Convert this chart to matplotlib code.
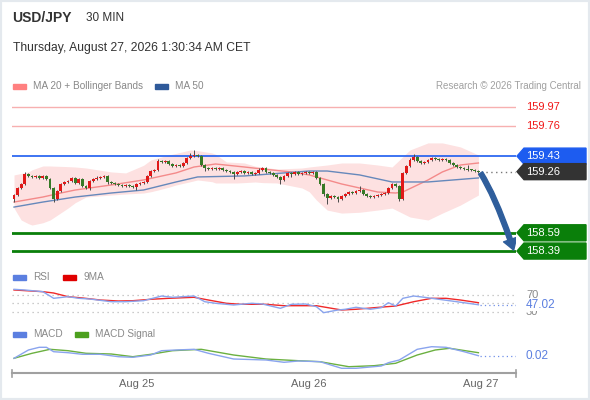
import matplotlib
matplotlib.use("Agg")
import matplotlib.pyplot as plt
import matplotlib.transforms as mtransforms
from matplotlib.patches import Polygon, Rectangle, FancyArrowPatch
from matplotlib.path import Path

plt.rcParams['font.family'] = ['Liberation Sans', 'DejaVu Sans']

symbol = "USD/JPY"
timeframe = "30 MIN"
timestamp = "Thursday, August 27, 2026 1:30:34 AM CET"

# 30 min candles, open of each = close of the one before
first_open = 158.960
closes = [
    159.004, 159.081, 159.125, 159.235, 159.213, 159.202, 159.213, 159.191, 159.213, 159.180,
    159.081, 158.960, 159.048, 159.125, 159.147, 159.158, 159.191, 159.136, 159.180, 159.103,
    159.081, 159.158, 159.180, 159.191, 159.202, 159.213, 159.147, 159.136, 159.125, 159.114,
    159.103, 159.114, 159.103, 159.092, 159.125, 159.136, 159.147, 159.213, 159.267, 159.278,
    159.377, 159.366, 159.377, 159.344, 159.322, 159.333, 159.322, 159.355, 159.410, 159.432,
    159.443, 159.432, 159.333, 159.300, 159.289, 159.300, 159.289, 159.300, 159.278, 159.267,
    159.257, 159.235, 159.257, 159.267, 159.246, 159.257, 159.235, 159.246, 159.278, 159.300,
    159.257, 159.246, 159.224, 159.202, 159.169, 159.213, 159.246, 159.235, 159.257, 159.235,
    159.246, 159.257, 159.246, 159.257, 159.191, 159.125, 159.015, 158.971, 158.993, 158.982,
    158.960, 158.993, 159.015, 159.037, 159.026, 159.048, 159.059, 159.015, 158.993, 158.982,
    158.993, 159.004, 159.015, 159.026, 159.081, 159.125, 159.103, 158.960, 159.246, 159.322,
    159.388, 159.421, 159.377, 159.355, 159.366, 159.388, 159.410, 159.399, 159.388, 159.399,
    159.388, 159.355, 159.333, 159.311, 159.300, 159.289, 159.278, 159.278, 159.267, 159.257,
]
# wick lengths in hundredths of a yen
wick_up = [
    1, 1, 1, 2, 1, 1, 1, 1, 1, 1,  1, 1, 1, 1, 1, 1, 1, 1, 1, 1,
    1, 1, 1, 2, 1, 1, 1, 1, 1, 1,  1, 1, 1, 1, 1, 1, 1, 1, 1, 1,
    2, 1, 1, 1, 1, 1, 1, 1, 1, 3,  5, 1, 1, 1, 1, 1, 1, 1, 1, 1,
    1, 1, 1, 1, 1, 1, 1, 1, 2, 1,  1, 1, 1, 1, 1, 1, 1, 1, 1, 1,
    1, 1, 1, 1, 1, 1, 1, 1, 1, 1,  1, 1, 1, 1, 1, 1, 4, 1, 1, 1,
    1, 1, 1, 1, 1, 1, 1, 1, 1, 1,  2, 3, 1, 1, 1, 1, 1, 1, 1, 1,
    1, 1, 1, 1, 1, 1, 4, 1, 1, 1,
]
wick_dn = [
    3, 1, 1, 1, 1, 1, 1, 1, 1, 1,  1, 3, 1, 1, 1, 1, 1, 1, 1, 1,
    1, 2, 1, 1, 1, 1, 2, 1, 1, 1,  1, 1, 1, 1, 3, 1, 1, 1, 1, 1,
    1, 1, 1, 1, 1, 1, 1, 1, 1, 1,  1, 1, 1, 3, 1, 1, 1, 1, 1, 1,
    1, 6, 1, 1, 1, 1, 1, 1, 1, 1,  1, 1, 1, 1, 4, 1, 1, 3, 1, 1,
    1, 1, 1, 1, 1, 1, 2, 7, 1, 1,  3, 1, 1, 1, 1, 1, 1, 1, 1, 1,
    1, 1, 1, 1, 1, 1, 1, 2, 1, 1,  1, 1, 1, 1, 1, 1, 1, 1, 1, 1,
    1, 1, 1, 1, 1, 1, 1, 1, 1, 1,
]

ma50_idx = [0, 8, 17, 27, 36, 45, 51, 64, 82, 87, 96, 105, 115, 129]
ma50_val = [158.872, 158.927, 158.982, 159.026, 159.059, 159.147, 159.202, 159.213,
            159.267, 159.267, 159.224, 159.147, 159.147, 159.191]
ma20_idx = [0, 8, 13, 17, 27, 36, 45, 50, 56, 64, 69, 77, 82, 87, 91, 96, 101, 106,
            108, 115, 119, 124, 129]
ma20_val = [158.927, 158.982, 159.026, 159.059, 159.114, 159.169, 159.246, 159.311,
            159.344, 159.311, 159.289, 159.257, 159.224, 159.169, 159.125, 159.081,
            159.037, 159.026, 159.037, 159.169, 159.257, 159.333, 159.355]
bb_idx = [0, 2, 4, 5, 8, 10, 15, 17, 20, 27, 31, 36, 38, 40, 43, 45, 49, 51, 55, 56,
          59, 62, 64, 67, 69, 73, 80, 82, 84, 87, 91, 96, 101, 105, 110, 115, 119, 124, 129]
bb_upper = [159.224, 159.240, 159.257, 159.280, 159.322, 159.322, 159.315, 159.311,
            159.300, 159.257, 159.246, 159.330, 159.388, 159.410, 159.443, 159.460,
            159.498, 159.490, 159.465, 159.450, 159.366, 159.360, 159.355, 159.320,
            159.311, 159.289, 159.300, 159.311, 159.320, 159.333, 159.355, 159.355,
            159.333, 159.311, 159.498, 159.575, 159.575, 159.531, 159.443]
bb_lower = [158.861, 158.730, 158.690, 158.675, 158.700, 158.730, 158.861, 158.920,
            158.982, 159.004, 159.015, 159.026, 159.040, 159.059, 159.090, 159.114,
            159.150, 159.169, 159.150, 159.136, 159.136, 159.136, 159.140, 159.147,
            159.140, 159.136, 159.081, 159.040, 158.949, 158.839, 158.806, 158.815,
            158.839, 158.861, 158.763, 158.730, 158.806, 158.894, 159.004]

res_levels = [159.97, 159.76]
pivot = 159.43
last_price = 159.26
sup_levels = [158.59, 158.39]

rsi_idx = [0, 3, 8, 10, 11, 15, 18, 21, 27, 31, 36, 41, 44, 50, 53, 56, 61, 66, 69,
           74, 77, 81, 84, 86, 90, 92, 95, 99, 102, 104, 106, 108, 111, 114, 118, 123, 129]
rsi_val = [83.4, 81.8, 77.8, 67.6, 62.2, 66.0, 62.2, 60.6, 54.2, 54.2, 56.6, 67.6, 64.6,
           67.6, 54.2, 50.5, 46.5, 50.5, 48.8, 38.7, 48.1, 48.8, 42.5, 28.4, 34.7, 36.4,
           41.1, 36.4, 40.1, 51.9, 44.1, 62.2, 67.6, 64.6, 59.9, 54.2, 47.02]
rsi_ma_idx = [0, 8, 11, 15, 19, 24, 29, 33, 38, 43, 50, 54, 59, 63, 70, 75, 79, 84, 91,
              95, 100, 106, 111, 116, 120, 124, 129]
rsi_ma_val = [81.8, 77.8, 74.7, 66.0, 63.0, 58.2, 55.9, 56.6, 59.9, 62.2, 64.6, 58.2,
              50.5, 48.1, 48.1, 44.8, 44.8, 44.8, 34.7, 36.4, 40.1, 44.1, 54.2, 62.2,
              62.2, 58.2, 51.9]

macd_idx = [0, 4, 7, 9, 11, 15, 19, 24, 29, 33, 38, 41, 45, 50, 54, 61, 70, 75, 79, 85,
            91, 95, 102, 104, 107, 112, 116, 120, 125, 129]
macd_val = [0.007, 0.0485, 0.062, 0.062, 0.040, 0.035, 0.027, 0.027, 0.015, 0.012,
            0.0235, 0.045, 0.0485, 0.052, 0.032, 0.0035, -0.0015, -0.013, -0.0065, -0.010,
            -0.043, -0.043, -0.0315, -0.015, -0.0015, 0.052, 0.065, 0.062, 0.040, 0.02]
sig_idx = [0, 5, 10, 15, 20, 27, 33, 38, 44, 52, 61, 70, 79, 85, 93, 100, 106, 112, 117,
           121, 129]
sig_val = [0.007, 0.032, 0.052, 0.045, 0.032, 0.0285, 0.015, 0.027, 0.045, 0.052, 0.0235,
           0.0035, -0.005, -0.010, -0.035, -0.030, -0.018, 0.0235, 0.0485, 0.057, 0.035]

day_ticks = [34, 82, 129.5]
day_labels = ["Aug 25", "Aug 26", "Aug 27"]

W, H = 590, 400
fig = plt.figure(figsize=(W / 100, H / 100), dpi=100)


def fx(x):
    return x / W


def fy(y):
    return 1 - y / H


def add_axes_px(left, top, right, bottom):
    return fig.add_axes([fx(left), fy(bottom), (right - left) / W, (bottom - top) / H])


ax = add_axes_px(12, 95, 516, 262)
ax_rsi = add_axes_px(12, 285, 516, 318)
ax_macd = add_axes_px(12, 340, 516, 373)
for a in (ax, ax_rsi, ax_macd):
    a.set_xlim(-0.56, 139.44)
    a.set_facecolor('none')
    for s in a.spines.values():
        s.set_visible(False)
    a.set_yticks([])
    a.set_xticks([])

ax.set_ylim(158.27, 160.10)
ax_rsi.set_ylim(15.88, 93.53)
ax_macd.set_ylim(-0.0665, 0.0985)

# bollinger + moving averages
ax.fill_between(bb_idx, bb_lower, bb_upper, color='#FDE1E1', lw=0, zorder=1)
ax.plot(ma20_idx, ma20_val, color='#F48A8A', lw=1.0, zorder=2)
ax.plot(ma50_idx, ma50_val, color='#6688BB', lw=1.0, zorder=2)

# candles
opens = [first_open] + closes[:-1]
for i, (o, c) in enumerate(zip(opens, closes)):
    top, bot = max(o, c), min(o, c)
    ax.vlines(i, bot - wick_dn[i] * 0.01, top + wick_up[i] * 0.01, color='#4A4A4A', lw=0.7, zorder=3)
    col = '#E01818' if c > o else '#367A26'
    ax.bar(i, max(top - bot, 0.008), bottom=bot, width=0.8, color=col, lw=0, zorder=4)

# key levels
for lv in res_levels:
    ax.axhline(lv, color='#F7B0B0', lw=1.0, zorder=2)
ax.axhline(pivot, color='#1D5CF0', lw=1.2, zorder=2)
for lv in sup_levels:
    ax.axhline(lv, color='#0A7F0A', lw=2.0, zorder=2)
ax.plot([len(closes) - 0.4, 139.44], [last_price, last_price], color='#777777',
        lw=1.0, ls=(0, (1, 2.5)), zorder=2)

# arrow to the target
arrow_path = Path([(len(closes) - 0.4, last_price - 0.015), (134.0, 158.97), (138.8, 158.40)],
                  [Path.MOVETO, Path.CURVE3, Path.CURVE3])
ax.add_patch(FancyArrowPatch(path=arrow_path,
                             arrowstyle='simple,head_length=8,head_width=10,tail_width=3.4',
                             color='#2F5E9C', mutation_scale=1, zorder=6))

# right hand labels
tr = mtransforms.blended_transform_factory(fig.transFigure, ax.transData)
half = 8 / 91.1


def tag(level, color):
    pts = [(fx(517), level), (fx(524), level + half), (fx(586), level + half),
           (fx(586), level - half), (fx(524), level - half)]
    ax.add_patch(Polygon(pts, closed=True, transform=tr, color=color, clip_on=False, zorder=7))
    ax.text(fx(526), level, f"{level:.2f}", transform=tr, color='white', fontsize=8,
            va='center', ha='left', zorder=8, clip_on=False)


for lv in res_levels:
    ax.text(fx(526), lv, f"{lv:.2f}", transform=tr, color='#F01818', fontsize=8,
            va='center', ha='left', clip_on=False)
tag(pivot, '#1D5CF0')
tag(last_price, '#333333')
for lv in sup_levels:
    tag(lv, '#0A7F0A')

# RSI panel
for lv in (70, 50, 30):
    ax_rsi.axhline(lv, color='#BBBBBB', lw=0.9, ls=(0, (1, 3)))
ax_rsi.plot(rsi_ma_idx, rsi_ma_val, color='#F02828', lw=1.0)
ax_rsi.plot(rsi_idx, rsi_val, color='#8AA4EE', lw=1.0)
ax_rsi.plot([rsi_idx[-1] + 0.5, 139.44], [rsi_val[-1], rsi_val[-1]], color='#6F8FE8',
            lw=0.9, ls=(0, (1, 2.5)))
tr_rsi = mtransforms.blended_transform_factory(fig.transFigure, ax_rsi.transData)
ax_rsi.text(fx(526), 70, "70", transform=tr_rsi, color='#888888', fontsize=8, va='center', clip_on=False)
ax_rsi.text(fx(526), 30, "30", transform=tr_rsi, color='#888888', fontsize=8, va='center', clip_on=False)
ax_rsi.text(fx(526), rsi_val[-1], f"{rsi_val[-1]:.2f}", transform=tr_rsi, color='#5B7FE0',
            fontsize=8.5, va='center', clip_on=False,
            bbox=dict(facecolor='white', edgecolor='none', pad=0.3))

# MACD panel
ax_macd.plot(sig_idx, sig_val, color='#6BB040', lw=1.0)
ax_macd.plot(macd_idx, macd_val, color='#8AA4EE', lw=1.0)
ax_macd.plot([macd_idx[-1] + 0.5, 139.44], [macd_val[-1], macd_val[-1]], color='#6F8FE8',
             lw=0.9, ls=(0, (1, 2.5)))
tr_macd = mtransforms.blended_transform_factory(fig.transFigure, ax_macd.transData)
ax_macd.text(fx(526), macd_val[-1], f"{macd_val[-1]:.2f}", transform=tr_macd, color='#5B7FE0',
             fontsize=8.5, va='center', clip_on=False)

ax_macd.spines['bottom'].set_visible(True)
ax_macd.spines['bottom'].set_color('#A0A0A0')
ax_macd.spines['bottom'].set_linewidth(1.5)
for xe in (0, 1):
    ax_macd.plot([xe, xe], [-0.12, 0.08], transform=ax_macd.transAxes, color='#A0A0A0',
                 lw=1.2, clip_on=False)
ax_macd.set_xticks(day_ticks)
ax_macd.set_xticklabels(day_labels)
ax_macd.tick_params(axis='x', length=0, pad=4, labelsize=8, labelcolor='#666666')

# header
fig.text(fx(12), fy(18), symbol, fontsize=10, fontweight='bold', color='#333333', va='center')
fig.text(fx(86), fy(18), timeframe, fontsize=8.5, color='#333333', va='center')
fig.text(fx(13), fy(48), timestamp, fontsize=8.7, color='#333333', va='center')


def legend_item(x, y, color, label):
    fig.patches.append(Rectangle((fx(x), fy(y + 2.5)), 13 / W, 5 / H, transform=fig.transFigure,
                                 color=color, figure=fig))
    fig.text(fx(x + 20), fy(y), label, fontsize=7.2, color='#888888', va='center')


legend_item(13, 86, '#FF8080', "MA 20 + Bollinger Bands")
legend_item(155, 86, '#2F5A9A', "MA 50")
fig.text(fx(581), fy(86), "Research \u00a9 2026 Trading Central", fontsize=7, color='#A0A0A0',
         va='center', ha='right')
legend_item(13, 277, '#5B7FE0', "RSI")
legend_item(63, 277, '#E00000', "9MA")
legend_item(13, 334, '#5B7FE0', "MACD")
legend_item(75, 334, '#4CA01E', "MACD Signal")

# light frame round the card
fig.patches.append(Rectangle((0, 0), 1, 1, transform=fig.transFigure, fill=False,
                             edgecolor='#E4E9EE', lw=3, figure=fig))

fig.savefig("out.png", dpi=100)
